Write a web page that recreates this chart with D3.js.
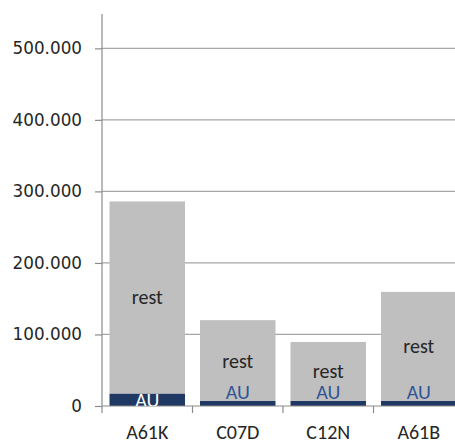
<!DOCTYPE html>
<html>
<head>
<meta charset="utf-8">
<script src="https://cdn.jsdelivr.net/npm/d3@7"></script>
<style>
  html, body { margin: 0; padding: 0; background: #fff; overflow: hidden; }
  svg { display: block; }
</style>
</head>
<body>
<svg id="chart" width="455" height="442"></svg>
<script>
// Patent classes and their counts, split into AU share and the rest
const categories = ["A61K", "C07D", "C12N", "A61B"];
const auValues   = [17500, 7000, 7000, 7000];
const restValues = [268500, 113000, 82500, 152500];
const yTicks     = [0, 100000, 200000, 300000, 400000, 500000];
const yTickLabels = ["0", "100.000", "200.000", "300.000", "400.000", "500.000"];
const seriesNames = ["AU", "rest"];

const svg = d3.select("#chart");
const plotLeft = 102, plotTop = 14, plotBottom = 406, plotRight = 464;

const x = d3.scaleBand().domain(categories).range([plotLeft, plotRight]).paddingInner(0.166).paddingOuter(0.083);
const y = d3.scaleLinear().domain([0, 548000]).range([plotBottom, plotTop]);

const rows = categories.map((c, i) => ({ cat: c, AU: auValues[i], rest: restValues[i] }));
const stacked = d3.stack().keys(seriesNames)(rows);

const colors = { AU: "#1F3864", rest: "#BFBFBF" };
const labelFont = "Carlito, Calibri, Lato, sans-serif";

// gridlines
svg.append("g")
  .selectAll("line")
  .data(yTicks.filter(d => d > 0))
  .join("line")
  .attr("x1", plotLeft).attr("x2", plotRight)
  .attr("y1", d => y(d)).attr("y2", d => y(d))
  .attr("stroke", "#A6A6A6").attr("stroke-width", 1.2);

// y axis
const yAxis = d3.axisLeft(y).tickValues(yTicks).tickSize(7).tickPadding(13)
  .tickFormat((d, i) => yTickLabels[i]);
const gy = svg.append("g").attr("transform", `translate(${plotLeft},0)`).call(yAxis);
gy.select(".domain").attr("stroke", "#8C8C8C").attr("stroke-width", 1.2)
  .attr("d", `M0,${plotTop}V${plotBottom}`);
gy.selectAll(".tick line").attr("stroke", "#8C8C8C").attr("stroke-width", 1.2);
gy.selectAll(".tick text").attr("fill", "#262626")
  .style("font-family", "'DejaVu Sans', Verdana, sans-serif").style("font-size", "16.8px");

// bars
svg.append("clipPath").attr("id", "plot")
  .append("rect").attr("x", plotLeft).attr("y", plotTop)
  .attr("width", plotRight - plotLeft).attr("height", plotBottom - plotTop);

const layers = svg.append("g").attr("clip-path", "url(#plot)")
  .selectAll("g.layer").data(stacked).join("g")
  .attr("class", "layer").attr("fill", d => colors[d.key]);

layers.selectAll("rect")
  .data(d => d.map(v => ({ key: d.key, v })))
  .join("rect")
  .attr("x", d => x(d.v.data.cat))
  .attr("width", x.bandwidth())
  .attr("y", d => y(d.v[1]))
  .attr("height", d => y(d.v[0]) - y(d.v[1]));

// x axis
const xAxis = d3.axisBottom(x).tickSize(0).tickPadding(20);
const gx = svg.append("g").attr("transform", `translate(0,${plotBottom})`).call(xAxis);
gx.select(".domain").attr("stroke", "#8C8C8C").attr("stroke-width", 1.2)
  .attr("d", `M${plotLeft},0H${plotRight}`);
gx.selectAll(".tick text").attr("fill", "#262626")
  .attr("dy", "0.66em")
  .style("font-family", labelFont).style("font-size", "20px");
// category boundary ticks
const step = x.step();
const boundaries = categories.map((c, i) => plotLeft + i * step);
gx.append("g").selectAll("line").data(boundaries).join("line")
  .attr("x1", d => d).attr("x2", d => d).attr("y1", 0).attr("y2", 7)
  .attr("stroke", "#8C8C8C").attr("stroke-width", 1.2);

// data labels
const labels = svg.append("g").attr("clip-path", "url(#plot)")
  .style("font-family", labelFont).style("font-size", "20px")
  .attr("text-anchor", "middle");

stacked.forEach(layer => {
  layer.forEach(v => {
    const y0 = y(v[0]), y1 = y(v[1]);
    const h = y0 - y1;
    const fits = h >= 10;
    let cy = (y0 + y1) / 2;
    let fill;
    if (layer.key === "AU") {
      fill = fits ? "#FFFFFF" : "#2F5496";
      if (!fits) cy = plotBottom - 14;
    } else {
      fill = "#262626";
    }
    labels.append("text")
      .attr("x", x(v.data.cat) + x.bandwidth() / 2)
      .attr("y", cy)
      .attr("dy", "0.35em")
      .attr("fill", fill)
      .text(layer.key);
  });
});
</script>
</body>
</html>
